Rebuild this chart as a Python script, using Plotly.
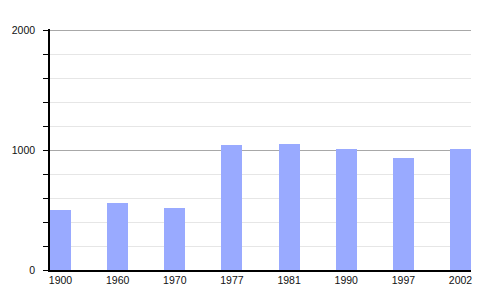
import plotly.graph_objects as go

years = ["1900", "1960", "1970", "1977", "1981", "1990", "1997", "2002"]
population = [502, 563, 519, 1046, 1054, 1012, 937, 1012]

bar_w = 0.367
fig = go.Figure(go.Bar(x=years, y=population, marker_color="#99aaff",
                       marker_line_width=0, width=bar_w))

fig.update_layout(
    width=500, height=300,
    margin=dict(l=50, r=29, t=29, b=30),
    plot_bgcolor="white", paper_bgcolor="white",
    font=dict(family="Liberation Sans, Arial, sans-serif", size=10.5, color="#111"),
    showlegend=False,
    bargap=0,
)
fig.update_xaxes(
    type="category", range=[-bar_w / 2, len(years) - 1 + bar_w / 2],
    showline=True, linecolor="black", linewidth=1.5,
    showgrid=False, ticks="", ticklabelstandoff=0,
)
fig.update_yaxes(
    range=[0, 2015], dtick=1000, tick0=0,
    showline=True, linecolor="black", linewidth=1.5,
    showgrid=True, gridcolor="#a8a8a8", gridwidth=1,
    ticks="outside", ticklen=5, tickcolor="black", ticklabelstandoff=6,
    zeroline=False,
    minor=dict(dtick=200, tick0=0, showgrid=True, gridcolor="#e6e6e6",
               ticks="outside", ticklen=5, tickcolor="black"),
)

fig.write_html("out.html")
